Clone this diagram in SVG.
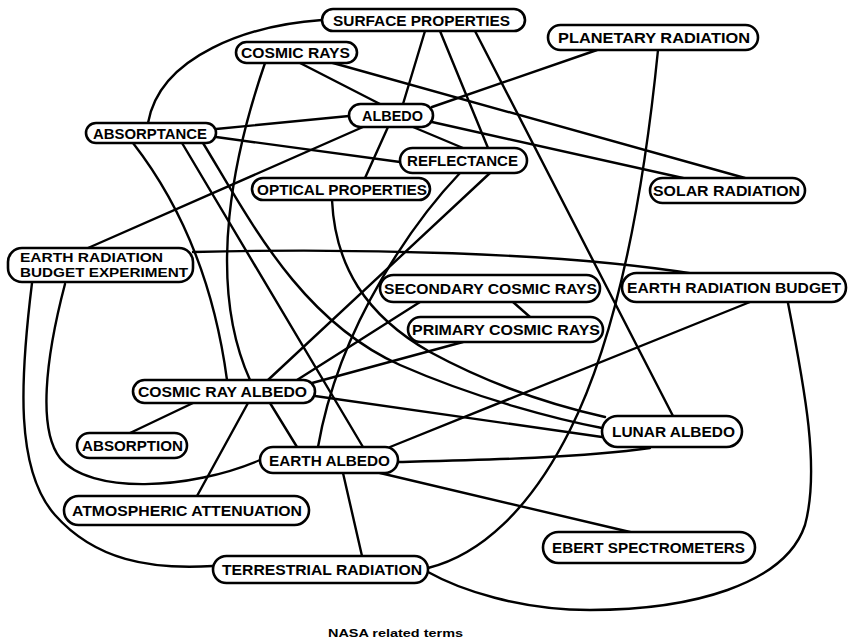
<svg xmlns="http://www.w3.org/2000/svg" width="848" height="643" viewBox="0 0 848 643">
<style>
.c{fill:none;stroke:#000;stroke-width:2.4;stroke-linecap:round}
.n rect{fill:#fff;stroke:#000;stroke-width:2.6}
.n text{font-family:"Liberation Sans",Arial,sans-serif;font-weight:bold;font-size:15px;fill:#000;text-anchor:middle}
.n text.s{text-anchor:start;font-size:13px}
.f{font-family:"Liberation Sans",Arial,sans-serif;font-weight:bold;font-size:10px;fill:#000;text-anchor:middle}
</style>
<rect width="848" height="643" fill="#fff"/>
<g id="connectors">
<path class="c" d="M322,20 C250,25 160,55 148,123"/>
<path class="c" d="M425,31 L403,104"/>
<path class="c" d="M440,31 L488,148"/>
<path class="c" d="M475,31 L673,416"/>
<path class="c" d="M300,63 L380,104"/>
<path class="c" d="M333,63 L745,178"/>
<path class="c" d="M597,50 L432,107"/>
<path class="c" d="M658,50 C645,180 620,330 570,430 C530,510 480,555 428,568"/>
<path class="c" d="M349,116 L216,129"/>
<path class="c" d="M363,127 L88,248"/>
<path class="c" d="M388,127 L365,178"/>
<path class="c" d="M413,127 L463,148"/>
<path class="c" d="M432,122 L683,178"/>
<path class="c" d="M216,137 L400,162"/>
<path class="c" d="M133,143 C185,210 215,290 227,380"/>
<path class="c" d="M182,143 L363,447"/>
<path class="c" d="M203,143 C250,220 300,320 400,365 C480,400 560,420 602,428"/>
<path class="c" d="M265,63 C235,150 205,280 250,380"/>
<path class="c" d="M332,200 C335,265 365,315 430,352 C500,390 565,408 605,417"/>
<path class="c" d="M490,173 L268,380"/>
<path class="c" d="M460,173 C420,215 340,320 318,447"/>
<path class="c" d="M193,252 C350,248 560,252 695,274"/>
<path class="c" d="M32,283 C20,380 15,470 55,515 C95,560 150,570 213,566"/>
<path class="c" d="M65,284 C45,360 38,430 60,458 C90,495 190,490 260,460"/>
<path class="c" d="M513,302 L530,317"/>
<path class="c" d="M297,380 L420,302"/>
<path class="c" d="M312,383 L463,342"/>
<path class="c" d="M315,396 L602,437"/>
<path class="c" d="M193,403 L130,433"/>
<path class="c" d="M248,403 L197,496"/>
<path class="c" d="M270,403 L297,447"/>
<path class="c" d="M390,447 L750,302"/>
<path class="c" d="M398,462 C480,460 580,458 650,448"/>
<path class="c" d="M380,473 L630,532"/>
<path class="c" d="M343,473 L362,556"/>
<path class="c" d="M788,303 C805,390 820,470 805,525 C785,585 690,610 590,610 C520,610 460,590 428,572"/>
</g>
<g id="surface-properties" class="n"><rect x="322" y="9" width="203" height="22" rx="11"/><text x="421.5" y="25.5" textLength="177" lengthAdjust="spacingAndGlyphs">SURFACE PROPERTIES</text></g>
<g id="cosmic-rays" class="n"><rect x="236" y="42" width="121" height="21" rx="10.5"/><text x="295.5" y="58" textLength="109" lengthAdjust="spacingAndGlyphs">COSMIC RAYS</text></g>
<g id="planetary-radiation" class="n"><rect x="548" y="25" width="210" height="25" rx="12.5"/><text x="654" y="43" textLength="192" lengthAdjust="spacingAndGlyphs">PLANETARY RADIATION</text></g>
<g id="albedo" class="n"><rect x="349" y="104" width="84" height="23" rx="11.5"/><text x="392.5" y="121" textLength="61" lengthAdjust="spacingAndGlyphs">ALBEDO</text></g>
<g id="absorptance" class="n"><rect x="86" y="123" width="130" height="20" rx="10"/><text x="150" y="138.5" textLength="114" lengthAdjust="spacingAndGlyphs">ABSORPTANCE</text></g>
<g id="reflectance" class="n"><rect x="400" y="148" width="127" height="25" rx="12.5"/><text x="462.5" y="166" textLength="111" lengthAdjust="spacingAndGlyphs">REFLECTANCE</text></g>
<g id="optical-properties" class="n"><rect x="252" y="178" width="178" height="22" rx="11"/><text x="342" y="194.5" textLength="170" lengthAdjust="spacingAndGlyphs">OPTICAL PROPERTIES</text></g>
<g id="solar-radiation" class="n"><rect x="650" y="178" width="155" height="25" rx="12.5"/><text x="726.5" y="196" textLength="147" lengthAdjust="spacingAndGlyphs">SOLAR RADIATION</text></g>
<g id="earth-radiation-budget-experiment" class="n"><rect x="8" y="248" width="185" height="34" rx="14"/><text class="s" x="20" y="262" textLength="143" lengthAdjust="spacingAndGlyphs">EARTH RADIATION</text><text class="s" x="20" y="277" textLength="168" lengthAdjust="spacingAndGlyphs">BUDGET EXPERIMENT</text></g>
<g id="secondary-cosmic-rays" class="n"><rect x="380" y="275" width="220" height="27" rx="13.5"/><text x="490.5" y="294" textLength="213" lengthAdjust="spacingAndGlyphs">SECONDARY COSMIC RAYS</text></g>
<g id="earth-radiation-budget" class="n"><rect x="622" y="273" width="224" height="29" rx="14.5"/><text x="734" y="293" textLength="214" lengthAdjust="spacingAndGlyphs">EARTH RADIATION BUDGET</text></g>
<g id="primary-cosmic-rays" class="n"><rect x="408" y="317" width="195" height="25" rx="12.5"/><text x="506" y="335" textLength="188" lengthAdjust="spacingAndGlyphs">PRIMARY COSMIC RAYS</text></g>
<g id="cosmic-ray-albedo" class="n"><rect x="133" y="380" width="182" height="23" rx="11.5"/><text x="222.5" y="397" textLength="169" lengthAdjust="spacingAndGlyphs">COSMIC RAY ALBEDO</text></g>
<g id="absorption" class="n"><rect x="77" y="433" width="110" height="25" rx="12.5"/><text x="132.5" y="451" textLength="101" lengthAdjust="spacingAndGlyphs">ABSORPTION</text></g>
<g id="lunar-albedo" class="n"><rect x="602" y="416" width="140" height="31" rx="15.5"/><text x="673.5" y="437" textLength="123" lengthAdjust="spacingAndGlyphs">LUNAR ALBEDO</text></g>
<g id="earth-albedo" class="n"><rect x="260" y="447" width="138" height="26" rx="13"/><text x="329.5" y="465.5" textLength="121" lengthAdjust="spacingAndGlyphs">EARTH ALBEDO</text></g>
<g id="atmospheric-attenuation" class="n"><rect x="64" y="496" width="245" height="29" rx="14.5"/><text x="187" y="516" textLength="230" lengthAdjust="spacingAndGlyphs">ATMOSPHERIC ATTENUATION</text></g>
<g id="ebert-spectrometers" class="n"><rect x="543" y="532" width="212" height="31" rx="15.5"/><text x="648.5" y="553" textLength="193" lengthAdjust="spacingAndGlyphs">EBERT SPECTROMETERS</text></g>
<g id="terrestrial-radiation" class="n"><rect x="213" y="556" width="215" height="27" rx="13.5"/><text x="322" y="575" textLength="200" lengthAdjust="spacingAndGlyphs">TERRESTRIAL RADIATION</text></g>
<text class="f" x="395.5" y="637" textLength="135" lengthAdjust="spacingAndGlyphs">NASA related terms</text>
</svg>
